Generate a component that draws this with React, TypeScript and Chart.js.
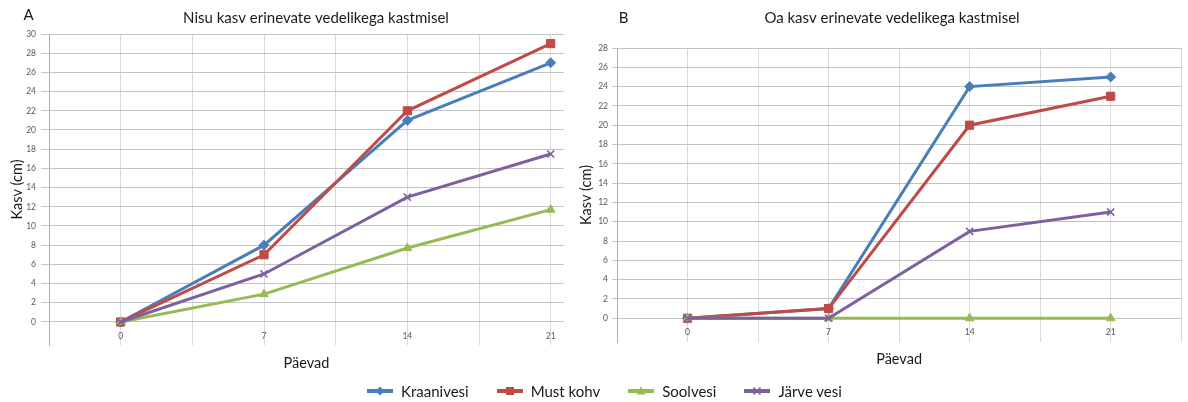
import React, { useEffect, useRef } from "react";
import { Chart, registerables } from "chart.js";

Chart.register(...registerables);

// ---------- data ----------
const days = [0, 7, 14, 21];
const seriesNames = ["Kraanivesi", "Must kohv", "Soolvesi", "Järve vesi"];
const seriesColors = ["#4A7EBB", "#BE4B48", "#98B954", "#7D60A0"];
const markerStyles = ["rectRot", "rect", "triangle", "crossRot"];

const wheatKraanivesi = [0, 8, 21, 27];
const wheatMustKohv = [0, 7, 22, 29];
const wheatSoolvesi = [0, 2.9, 7.7, 11.7];
const wheatJarveVesi = [0, 5, 13, 17.5];

const beanKraanivesi = [0, 1, 24, 25];
const beanMustKohv = [0, 1, 20, 23];
const beanSoolvesi = [0, 0, 0, 0];
const beanJarveVesi = [0, 0, 9, 11];

const wheatYTicks = [0, 2, 4, 6, 8, 10, 12, 14, 16, 18, 20, 22, 24, 26, 28, 30];
const beanYTicks = [0, 2, 4, 6, 8, 10, 12, 14, 16, 18, 20, 22, 24, 26, 28];
const wheatXGrid = [-3.5, 0, 3.5, 7, 10.5, 14, 17.5, 21];
const beanXGrid = [-3.5, 0, 3.5, 7, 10.5, 14, 17.5, 21, 24.5];

const panelLetters = ["A", "B"];
const panelTitles = [
  "Nisu kasv erinevate vedelikega kastmisel",
  "Oa kasv erinevate vedelikega kastmisel",
];
const yTitle = "Kasv (cm)";
const xTitle = "Päevad";

const FONT = "Lato, 'Open Sans', sans-serif";

const panelTextPlugin = {
  id: "panelText",
  afterDraw(chart: any, _args: any, opts: any) {
    const ctx = chart.ctx;
    ctx.save();
    ctx.fillStyle = "#1a1a1a";
    ctx.textBaseline = "middle";
    for (const t of opts.items || []) {
      ctx.font = t.font;
      ctx.textAlign = t.align;
      ctx.fillText(t.text, t.x, t.y);
    }
    ctx.restore();
  },
};

function buildConfig(p: any) {
  const seriesData = p.series;
  return {
    type: "line",
    data: {
      datasets: seriesData.map((vals: number[], i: number) => ({
        label: seriesNames[i],
        data: days.map((d, j) => ({ x: d, y: vals[j] })),
        borderColor: seriesColors[i],
        backgroundColor: seriesColors[i],
        pointBackgroundColor: seriesColors[i],
        pointBorderColor: seriesColors[i],
        pointStyle: markerStyles[i],
        pointRadius: i === 1 ? 5.8 : 5,
        pointBorderWidth: i === 3 ? 1.6 : 1,
        borderWidth: 3,
        tension: 0,
        order: 3 - i,
      })),
    },
    options: {
      responsive: false,
      animation: false,
      events: [],
      layout: { padding: p.padding },
      plugins: {
        legend: { display: false },
        tooltip: { enabled: false },
        title: { display: false },
        panelText: { items: p.texts },
      },
      scales: {
        x: {
          type: "linear",
          min: p.xMin,
          max: p.xMax,
          afterBuildTicks: (s: any) => {
            s.ticks = p.xGrid.map((v: number) => ({ value: v }));
          },
          afterFit: (s: any) => {
            s.height = p.xHeight;
          },
          grid: { color: "#d9d9d9", lineWidth: 1, drawTicks: false },
          border: { display: false },
          ticks: {
            mirror: true,
            padding: p.xTickPad,
            color: "#595959",
            font: { family: FONT, size: 8.5 },
            maxRotation: 0,
            autoSkip: false,
            callback: (v: any) => (v >= 0 && v % 7 === 0 ? String(v) : ""),
          },
          title: {
            display: true,
            text: xTitle,
            color: "#1a1a1a",
            font: { family: FONT, size: 14.5 },
            padding: { top: 0, bottom: p.xTitlePad },
          },
        },
        y: {
          type: "linear",
          min: p.yMin,
          max: p.yMax,
          afterBuildTicks: (s: any) => {
            s.ticks = p.yTicks.map((v: number) => ({ value: v }));
          },
          afterFit: (s: any) => {
            s.width = p.yWidth;
          },
          grid: { color: "#c4c4c4", lineWidth: 1, drawTicks: true, tickLength: p.tickLen },
          border: { display: true, color: "#b0b0b0", width: 1 },
          ticks: {
            padding: p.yTickPad,
            color: "#595959",
            font: { family: FONT, size: 8.5 },
            autoSkip: false,
          },
          title: {
            display: true,
            text: yTitle,
            color: "#1a1a1a",
            font: { family: FONT, size: 14.5 },
            padding: { top: p.yTitlePad, bottom: 0 },
          },
        },
      },
    },
    plugins: [panelTextPlugin],
  };
}

function Panel(props: { cfg: any; left: number; width: number }) {
  const ref = useRef<HTMLCanvasElement>(null);
  useEffect(() => {
    if (!ref.current) return;
    const chart = new Chart(ref.current, buildConfig(props.cfg) as any);
    return () => chart.destroy();
  }, []);
  return (
    <canvas
      ref={ref}
      width={props.width}
      height={402}
      style={{ position: "absolute", left: props.left, top: 0, width: props.width, height: 402 }}
    />
  );
}

const panelA = {
  series: [wheatKraanivesi, wheatMustKohv, wheatSoolvesi, wheatJarveVesi],
  xMin: -3.5,
  xMax: 21.65,
  yMin: -2.4,
  yMax: 30,
  xGrid: wheatXGrid,
  yTicks: wheatYTicks,
  padding: { left: 0, top: 34, right: 10, bottom: 0 },
  xHeight: 57,
  yWidth: 49,
  tickLen: 8,
  yTickPad: 5,
  xTickPad: 4,
  xTitlePad: 30,
  yTitlePad: 8.3,
  texts: [
    { text: panelLetters[0], x: 28.5, y: 15, align: "center", font: `15px ${FONT}` },
    { text: panelTitles[0], x: 316, y: 18, align: "center", font: `15px ${FONT}` },
  ],
};

const panelB = {
  series: [beanKraanivesi, beanMustKohv, beanSoolvesi, beanJarveVesi],
  xMin: -3.5,
  xMax: 24.5,
  yMin: -2.46,
  yMax: 28,
  xGrid: beanXGrid,
  yTicks: beanYTicks,
  padding: { left: 0, top: 48, right: 3, bottom: 0 },
  xHeight: 60,
  yWidth: 43,
  tickLen: 5,
  yTickPad: 4,
  xTickPad: 5,
  xTitlePad: 34,
  yTitlePad: 4,
  texts: [
    { text: panelLetters[1], x: 49.5, y: 18, align: "center", font: `15px ${FONT}` },
    { text: panelTitles[1], x: 318, y: 18.3, align: "center", font: `15px ${FONT}` },
  ],
};

function LegendSymbol({ i }: { i: number }) {
  const c = seriesColors[i];
  let marker: any = null;
  if (i === 0) marker = <polygon points="13,1.5 17.5,6 13,10.5 8.5,6" fill={c} />;
  else if (i === 1) marker = <rect x={9} y={2} width={8} height={8} fill={c} />;
  else if (i === 2) marker = <polygon points="13,1.5 17.5,9.5 8.5,9.5" fill={c} />;
  else
    marker = (
      <g stroke={c} strokeWidth={1.6}>
        <line x1={9.5} y1={2.5} x2={16.5} y2={9.5} />
        <line x1={16.5} y1={2.5} x2={9.5} y2={9.5} />
      </g>
    );
  return (
    <svg width={26} height={12} style={{ display: "block" }}>
      <line x1={0} y1={6} x2={26} y2={6} stroke={c} strokeWidth={4} />
      {marker}
    </svg>
  );
}

function Legend() {
  return (
    <div
      style={{
        position: "absolute",
        left: 367,
        top: 382,
        height: 18,
        display: "flex",
        alignItems: "center",
        fontFamily: FONT,
        fontSize: 15,
        color: "#1a1a1a",
        whiteSpace: "nowrap",
      }}
    >
      {seriesNames.map((n, i) => (
        <div key={n} style={{ display: "flex", alignItems: "center", marginRight: 28 }}>
          <LegendSymbol i={i} />
          <span style={{ marginLeft: 8, lineHeight: "18px" }}>{n}</span>
        </div>
      ))}
    </div>
  );
}

export default function App() {
  return (
    <div
      style={{
        position: "absolute",
        left: 0,
        top: 0,
        width: 1188,
        height: 402,
        overflow: "hidden",
        background: "#fff",
      }}
    >
      <Panel cfg={panelA} left={0} width={574} />
      <Panel cfg={panelB} left={574} width={614} />
      <Legend />
    </div>
  );
}
